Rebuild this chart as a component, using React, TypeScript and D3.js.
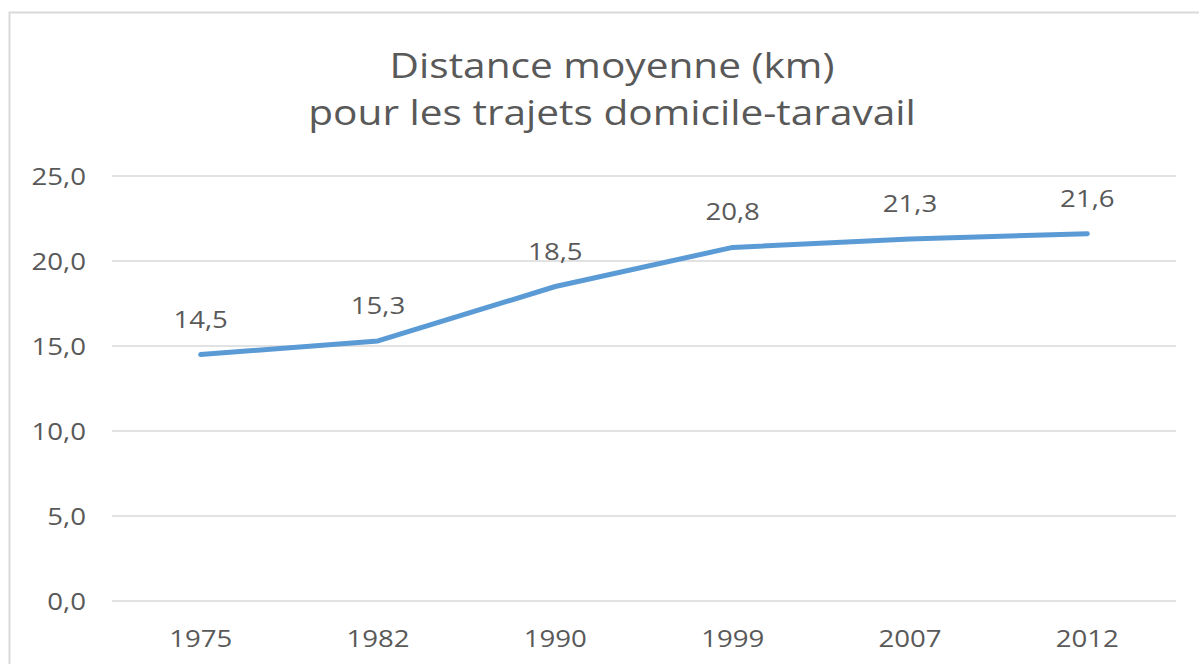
import React from "react";
import * as d3 from "d3";

const years = ["1975", "1982", "1990", "1999", "2007", "2012"];
const distances = [14.5, 15.3, 18.5, 20.8, 21.3, 21.6];
const yTicks = [0, 5, 10, 15, 20, 25];
const titleLines = ["Distance moyenne (km)", "pour les trajets domicile-taravail"];

const W = 1199;
const H = 664;
const FONT = "'Open Sans', 'Noto Sans', sans-serif";
const TEXT = "#595959";

function T(props: {
  x: number;
  y: number;
  size: number;
  sx: number;
  anchor: "start" | "middle" | "end";
  children: React.ReactNode;
}) {
  return (
    <text
      transform={`translate(${props.x},${props.y}) scale(${props.sx},1)`}
      textAnchor={props.anchor}
      fontFamily={FONT}
      fontSize={props.size}
      fill={TEXT}
    >
      {props.children}
    </text>
  );
}

export default function App() {
  const x = d3.scaleBand<string>().domain(years).range([112, 1176]);
  const y = d3.scaleLinear().domain([0, 25]).range([601, 176]);
  const cx = (yr: string) => (x(yr) as number) + x.bandwidth() / 2;
  const fmt = (v: number) => v.toFixed(1).replace(".", ",");
  const line = d3
    .line<number>()
    .x((_, i) => cx(years[i]))
    .y((d) => y(d));

  return (
    <svg
      width={W}
      height={H}
      style={{ position: "absolute", left: 0, top: 0, display: "block", background: "#fff" }}
    >
      <rect x={9.5} y={12.5} width={W + 20} height={H + 20} fill="#fff" stroke="#d9d9d9" strokeWidth={2} />
      {titleLines.map((t, i) => (
        <T key={i} x={612} y={78 + i * 47} size={35} sx={1.16} anchor="middle">
          {t}
        </T>
      ))}
      {yTicks.map((t) => (
        <g key={t}>
          <line x1={112} x2={1176} y1={y(t)} y2={y(t)} stroke="#d9d9d9" strokeWidth={1.5} />
          <T x={86} y={y(t) + 9} size={23} sx={1.2} anchor="end">
            {fmt(t)}
          </T>
        </g>
      ))}
      {years.map((yr) => (
        <T key={yr} x={cx(yr)} y={646.5} size={23} sx={1.2} anchor="middle">
          {yr}
        </T>
      ))}
      <path
        d={line(distances) as string}
        fill="none"
        stroke="#5b9bd5"
        strokeWidth={5}
        strokeLinecap="round"
        strokeLinejoin="round"
      />
      {distances.map((v, i) => (
        <T key={i} x={cx(years[i])} y={y(v) - 27} size={23} sx={1.2} anchor="middle">
          {fmt(v)}
        </T>
      ))}
    </svg>
  );
}
